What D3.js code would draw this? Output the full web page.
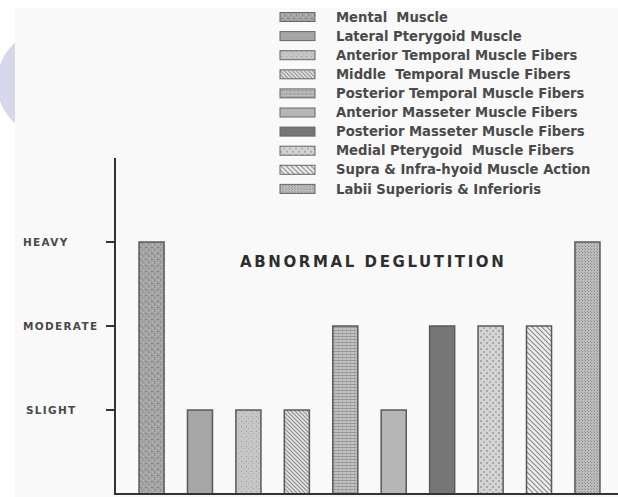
<!DOCTYPE html>
<html>
<head>
<meta charset="utf-8">
<script src="https://cdn.jsdelivr.net/npm/d3@7"></script>
<style>
  body { margin: 0; background: #fff; }
  svg { display: block; }
</style>
</head>
<body>
<div id="chart"></div>
<script>
var width = 618, height = 497;

// chart data
var muscles = ["Mental  Muscle", "Lateral Pterygoid Muscle", "Anterior Temporal Muscle Fibers",
  "Middle  Temporal Muscle Fibers", "Posterior Temporal Muscle Fibers", "Anterior Masseter Muscle Fibers",
  "Posterior Masseter Muscle Fibers", "Medial Pterygoid  Muscle Fibers", "Supra & Infra-hyoid Muscle Action",
  "Labii Superioris & Inferioris"];
var levels = [3, 1, 1, 1, 2, 1, 2, 2, 2, 3];
var levelLabels = ["SLIGHT", "MODERATE", "HEAVY"];
var fills = ["p-stipple", "p-solid", "p-lightdots", "p-hatch", "p-hlines", "p-light", "p-dark", "p-checks", "p-hatch2", "p-cross"];

var svg = d3.select("#chart").append("svg")
    .attr("width", width)
    .attr("height", height);

// --- patterns for the bar fills
var defs = svg.append("defs");

var p1 = defs.append("pattern").attr("id", "p-stipple").attr("patternUnits", "userSpaceOnUse")
    .attr("width", 6).attr("height", 6);
p1.append("rect").attr("width", 6).attr("height", 6).attr("fill", "#a4a4a4");
p1.append("rect").attr("x", 1).attr("y", 1).attr("width", 2).attr("height", 1).attr("fill", "#808080");
p1.append("rect").attr("x", 4).attr("y", 3).attr("width", 1).attr("height", 2).attr("fill", "#8a8a8a");
p1.append("rect").attr("x", 2).attr("y", 4).attr("width", 1).attr("height", 1).attr("fill", "#c4c4c4");
p1.append("rect").attr("x", 5).attr("y", 0).attr("width", 1).attr("height", 1).attr("fill", "#c0c0c0");

defs.append("pattern").attr("id", "p-solid").attr("patternUnits", "userSpaceOnUse")
    .attr("width", 4).attr("height", 4)
  .append("rect").attr("width", 4).attr("height", 4).attr("fill", "#a6a6a6");

var p3 = defs.append("pattern").attr("id", "p-lightdots").attr("patternUnits", "userSpaceOnUse")
    .attr("width", 5).attr("height", 5);
p3.append("rect").attr("width", 5).attr("height", 5).attr("fill", "#c6c6c6");
p3.append("rect").attr("x", 1).attr("y", 1).attr("width", 1).attr("height", 1).attr("fill", "#999");
p3.append("rect").attr("x", 3).attr("y", 3).attr("width", 1).attr("height", 1).attr("fill", "#aaa");

var p4 = defs.append("pattern").attr("id", "p-hatch").attr("patternUnits", "userSpaceOnUse")
    .attr("width", 4).attr("height", 4);
p4.append("rect").attr("width", 4).attr("height", 4).attr("fill", "#e4e4e4");
p4.append("path").attr("d", "M-1,-1L5,5M-1,3L1,5M3,-1L5,1").attr("stroke", "#8c8c8c").attr("stroke-width", 1.1);

var p5 = defs.append("pattern").attr("id", "p-hlines").attr("patternUnits", "userSpaceOnUse")
    .attr("width", 4).attr("height", 3);
p5.append("rect").attr("width", 4).attr("height", 3).attr("fill", "#c2c2c2");
p5.append("rect").attr("y", 0).attr("width", 4).attr("height", 1).attr("fill", "#999");
p5.append("rect").attr("x", 2).attr("y", 1).attr("width", 1).attr("height", 2).attr("fill", "#b0b0b0");

defs.append("pattern").attr("id", "p-light").attr("patternUnits", "userSpaceOnUse")
    .attr("width", 4).attr("height", 4)
  .append("rect").attr("width", 4).attr("height", 4).attr("fill", "#b6b6b6");

defs.append("pattern").attr("id", "p-dark").attr("patternUnits", "userSpaceOnUse")
    .attr("width", 4).attr("height", 4)
  .append("rect").attr("width", 4).attr("height", 4).attr("fill", "#767676");

var p8 = defs.append("pattern").attr("id", "p-checks").attr("patternUnits", "userSpaceOnUse")
    .attr("width", 6).attr("height", 6);
p8.append("rect").attr("width", 6).attr("height", 6).attr("fill", "#d4d4d4");
p8.append("rect").attr("x", 0).attr("y", 0).attr("width", 2).attr("height", 2).attr("fill", "#a8a8a8");
p8.append("rect").attr("x", 3).attr("y", 3).attr("width", 2).attr("height", 2).attr("fill", "#b0b0b0");

var p9 = defs.append("pattern").attr("id", "p-hatch2").attr("patternUnits", "userSpaceOnUse")
    .attr("width", 5).attr("height", 5);
p9.append("rect").attr("width", 5).attr("height", 5).attr("fill", "#eeeeee");
p9.append("path").attr("d", "M-1,-1L6,6M-1,4L1,6M4,-1L6,1").attr("stroke", "#8a8a8a").attr("stroke-width", 1.2);

var p10 = defs.append("pattern").attr("id", "p-cross").attr("patternUnits", "userSpaceOnUse")
    .attr("width", 3).attr("height", 3);
p10.append("rect").attr("width", 3).attr("height", 3).attr("fill", "#bcbcbc");
p10.append("rect").attr("x", 0).attr("y", 0).attr("width", 1).attr("height", 1).attr("fill", "#8e8e8e");
p10.append("rect").attr("x", 2).attr("y", 2).attr("width", 1).attr("height", 1).attr("fill", "#9a9a9a");

// --- background: lavender tab and off-white paper
svg.append("circle").attr("cx", 51).attr("cy", 83).attr("r", 54).attr("fill", "#d7d7ec");
svg.append("rect").attr("x", 15).attr("y", 8).attr("width", width - 15).attr("height", height - 8)
    .attr("fill", "#f9f9f9");

// --- scales
var x = d3.scaleBand()
    .domain(d3.range(muscles.length))
    .range([115, 624])
    .paddingInner(0.483)
    .paddingOuter(0.496);

var y = d3.scaleLinear()
    .domain([0, 3])
    .range([494, 242]);

// bars
svg.selectAll(".bar")
    .data(levels)
    .enter()
    .append("rect")
    .attr("class", "bar")
    .attr("x", function(d, i) { return x(i) })
    .attr("y", function(d) { return y(d) })
    .attr("width", x.bandwidth())
    .attr("height", function(d) { return y(0) - y(d) })
    .attr("fill", function(d, i) { return "url(#" + fills[i] + ")" })
    .attr("stroke", "#5a5a5a")
    .attr("stroke-width", 1.5);

// y axis line + ticks
svg.append("line")
    .attr("x1", 115).attr("x2", 115)
    .attr("y1", 158).attr("y2", y(0) + 1)
    .attr("stroke", "#333").attr("stroke-width", 2);

svg.append("line")
    .attr("x1", 114).attr("x2", width)
    .attr("y1", y(0)).attr("y2", y(0))
    .attr("stroke", "#333").attr("stroke-width", 2);

var ticks = svg.selectAll(".tick")
    .data(levelLabels)
    .enter()
    .append("g")
    .attr("class", "tick")
    .attr("transform", function(d, i) { return "translate(0," + y(i + 1) + ")" });

ticks.append("line")
    .attr("x1", 106).attr("x2", 115)
    .attr("stroke", "#333").attr("stroke-width", 2);

ticks.append("text")
    .attr("x", function(d) { return d == "SLIGHT" ? 26 : 23 })
    .attr("dy", "0.35em")
    .style("font-family", "'DejaVu Sans', sans-serif")
    .style("font-weight", "bold")
    .style("font-size", "10.5px")
    .style("letter-spacing", "1.3px")
    .attr("fill", "#4a4a4a")
    .text(function(d) { return d });

// title
svg.append("text")
    .attr("x", 240)
    .attr("y", 262)
    .attr("dy", "0.35em")
    .style("font-family", "'DejaVu Sans', sans-serif")
    .style("font-weight", "bold")
    .style("font-size", "15px")
    .style("letter-spacing", "2.6px")
    .attr("fill", "#2e2e2e")
    .text("ABNORMAL DEGLUTITION");

// legend
var legend = svg.selectAll(".legend")
    .data(muscles)
    .enter()
    .append("g")
    .attr("class", "legend")
    .attr("transform", function(d, i) { return "translate(280," + (17 + i * 19.1) + ")" });

legend.append("rect")
    .attr("x", 0).attr("y", -4.5)
    .attr("width", 35).attr("height", 9)
    .attr("fill", function(d, i) { return "url(#" + fills[i] + ")" })
    .attr("stroke", "#666").attr("stroke-width", 1);

legend.append("text")
    .attr("x", 56)
    .attr("dy", "0.35em")
    .style("font-family", "'DejaVu Sans', sans-serif")
    .style("font-weight", "bold")
    .style("font-size", "13.2px")
    .style("white-space", "pre")
    .attr("fill", "#4a4a4a")
    .text(function(d) { return d });
</script>
</body>
</html>
